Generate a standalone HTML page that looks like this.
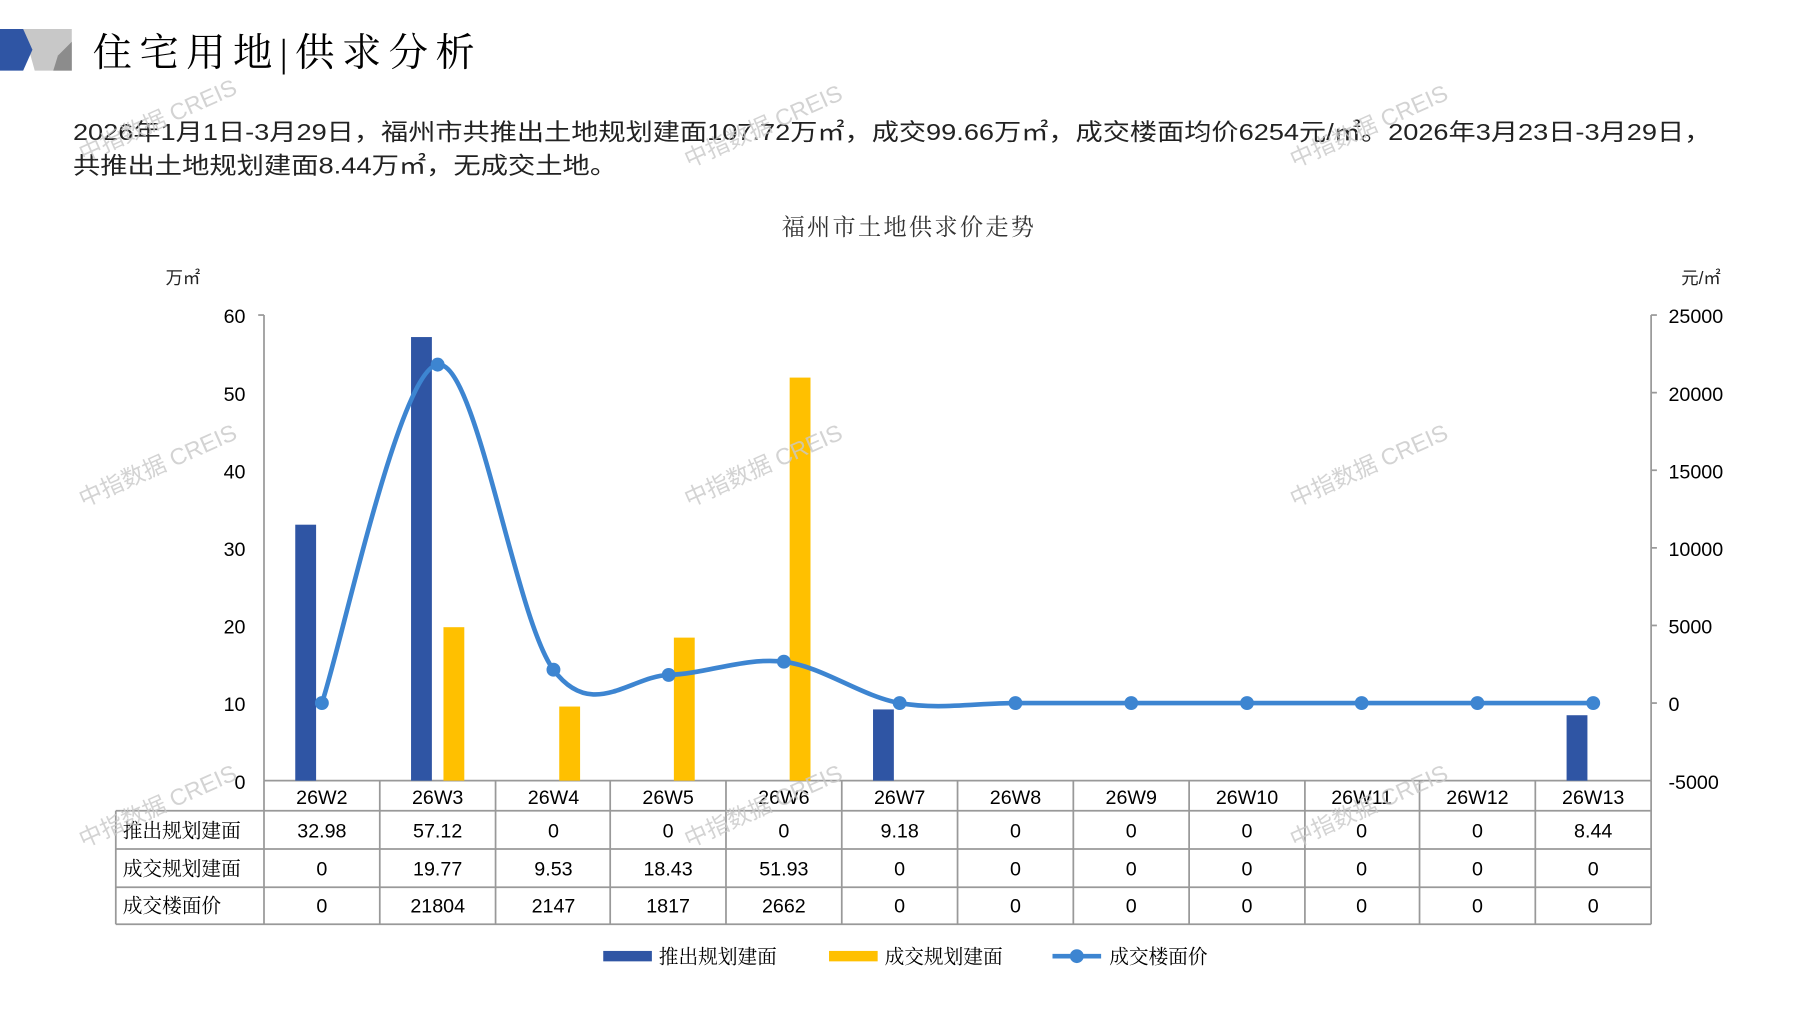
<!DOCTYPE html>
<html><head><meta charset="utf-8"><style>
html,body{margin:0;padding:0;background:#fff;width:1797px;height:1010px;overflow:hidden}
svg{display:block}
.s{font-family:"Liberation Serif","Noto Serif CJK SC",serif}
.n{font-family:"Liberation Sans","Noto Sans CJK SC",sans-serif}
</style></head><body>
<svg width="1797" height="1010" viewBox="0 0 1552 872" preserveAspectRatio="none" xmlns="http://www.w3.org/2000/svg">
<rect width="1552" height="872" fill="#fff"/>
<polygon points="20,25 62,25 62,61 30,61" fill="#c8c8c8"/>
<polygon points="0,25 20,25 28,43 20,61 0,61" fill="#2f55a4"/>
<polygon points="62,36 62,61 46,61 50,48" fill="#8c8c8c"/>
<text x="80" y="57" class="s" font-size="34" fill="#000" textLength="330" lengthAdjust="spacing">住宅用地|供求分析</text>
<g class="n" font-size="20" fill="#222">
<text x="63" y="121" textLength="1415" lengthAdjust="spacingAndGlyphs">2026年1月1日-3月29日，福州市共推出土地规划建面107.72万㎡，成交99.66万㎡，成交楼面均价6254元/㎡。2026年3月23日-3月29日，</text>
<text x="63" y="150" textLength="470" lengthAdjust="spacingAndGlyphs">共推出土地规划建面8.44万㎡，无成交土地。</text>
</g>
<text x="785" y="203" class="s" font-size="20" fill="#333" text-anchor="middle" letter-spacing="2">福州市土地供求价走势</text>
<text x="143" y="245" class="n" font-size="15" fill="#222">万㎡</text>
<text x="1452" y="245" class="n" font-size="15" fill="#222">元/㎡</text>
<g stroke="#999" stroke-width="1.5" fill="none">
<line x1="228" y1="272" x2="228" y2="674"/>
<line x1="1426" y1="272" x2="1426" y2="674"/>
<line x1="228" y1="674" x2="1426" y2="674"/>
<line x1="223" y1="272" x2="228" y2="272"/>
<line x1="1426" y1="272" x2="1431" y2="272"/>
<line x1="1426" y1="339" x2="1431" y2="339"/>
<line x1="1426" y1="406" x2="1431" y2="406"/>
<line x1="1426" y1="473" x2="1431" y2="473"/>
<line x1="1426" y1="540" x2="1431" y2="540"/>
<line x1="1426" y1="607" x2="1431" y2="607"/>
</g>
<g class="n" font-size="17" fill="#000" text-anchor="end">
<text x="212" y="279">60</text><text x="212" y="346">50</text><text x="212" y="413">40</text>
<text x="212" y="480">30</text><text x="212" y="547">20</text><text x="212" y="614">10</text><text x="212" y="681">0</text>
</g>
<g class="n" font-size="17" fill="#000">
<text x="1441" y="279">25000</text><text x="1441" y="346">20000</text><text x="1441" y="413">15000</text>
<text x="1441" y="480">10000</text><text x="1441" y="547">5000</text><text x="1441" y="614">0</text><text x="1441" y="681">-5000</text>
</g>
<g fill="#2f55a4">
<rect x="255" y="453" width="18" height="221"/>
<rect x="355" y="291" width="18" height="383"/>
<rect x="754" y="612.5" width="18" height="61.5"/>
<rect x="1353" y="617.5" width="18" height="56.5"/>
</g>
<g fill="#ffc000">
<rect x="383" y="541.5" width="18" height="132.5"/>
<rect x="483" y="610" width="18" height="64"/>
<rect x="582" y="550.5" width="18" height="123.5"/>
<rect x="682" y="326" width="18" height="348"/>
</g>
<path d="M278,607 C294.6,558.3 344.7,319.6 378,314.8 C411.3,310 444.7,533.6 478,578.2 C511.3,622.8 544.3,583.9 577.5,582.7 C610.7,581.5 643.7,567.3 677,571.3 C710.3,575.4 743.7,601.1 777,607 C810.3,613 843.7,607 877,607 L1377,607" fill="none" stroke="#3d85d1" stroke-width="4"/>
<g fill="#3d85d1">
<circle cx="278" cy="607" r="6"/><circle cx="378" cy="314.8" r="6"/><circle cx="478" cy="578.2" r="6"/>
<circle cx="577.5" cy="582.7" r="6"/><circle cx="677" cy="571.3" r="6"/><circle cx="777" cy="607" r="6"/>
<circle cx="877" cy="607" r="6"/><circle cx="977" cy="607" r="6"/><circle cx="1077" cy="607" r="6"/>
<circle cx="1176" cy="607" r="6"/><circle cx="1276" cy="607" r="6"/><circle cx="1376" cy="607" r="6"/>
</g>
<g stroke="#999" stroke-width="1.5" fill="none">
<line x1="228" y1="700" x2="1426" y2="700"/>
<line x1="100" y1="700" x2="228" y2="700"/>
<line x1="100" y1="733" x2="1426" y2="733"/>
<line x1="100" y1="766" x2="1426" y2="766"/>
<line x1="100" y1="798" x2="1426" y2="798"/>
<line x1="100" y1="700" x2="100" y2="798"/>
<line x1="228" y1="674" x2="228" y2="798"/>
<line x1="328" y1="674" x2="328" y2="798"/><line x1="428" y1="674" x2="428" y2="798"/>
<line x1="527" y1="674" x2="527" y2="798"/><line x1="627" y1="674" x2="627" y2="798"/>
<line x1="727" y1="674" x2="727" y2="798"/><line x1="827" y1="674" x2="827" y2="798"/>
<line x1="927" y1="674" x2="927" y2="798"/><line x1="1027" y1="674" x2="1027" y2="798"/>
<line x1="1127" y1="674" x2="1127" y2="798"/><line x1="1226" y1="674" x2="1226" y2="798"/>
<line x1="1326" y1="674" x2="1326" y2="798"/><line x1="1426" y1="674" x2="1426" y2="798"/>
</g>
<g class="s" font-size="17" fill="#000">
<text x="106" y="723">推出规划建面</text>
<text x="106" y="756">成交规划建面</text>
<text x="106" y="788">成交楼面价</text>
</g>
<g class="n" font-size="17" fill="#000" text-anchor="middle">
<text x="278" y="694">26W2</text><text x="378" y="694">26W3</text><text x="478" y="694">26W4</text><text x="577" y="694">26W5</text>
<text x="677" y="694">26W6</text><text x="777" y="694">26W7</text><text x="877" y="694">26W8</text><text x="977" y="694">26W9</text>
<text x="1077" y="694">26W10</text><text x="1176" y="694">26W11</text><text x="1276" y="694">26W12</text><text x="1376" y="694">26W13</text>
<text x="278" y="723">32.98</text><text x="378" y="723">57.12</text><text x="478" y="723">0</text><text x="577" y="723">0</text>
<text x="677" y="723">0</text><text x="777" y="723">9.18</text><text x="877" y="723">0</text><text x="977" y="723">0</text>
<text x="1077" y="723">0</text><text x="1176" y="723">0</text><text x="1276" y="723">0</text><text x="1376" y="723">8.44</text>
<text x="278" y="756">0</text><text x="378" y="756">19.77</text><text x="478" y="756">9.53</text><text x="577" y="756">18.43</text>
<text x="677" y="756">51.93</text><text x="777" y="756">0</text><text x="877" y="756">0</text><text x="977" y="756">0</text>
<text x="1077" y="756">0</text><text x="1176" y="756">0</text><text x="1276" y="756">0</text><text x="1376" y="756">0</text>
<text x="278" y="788">0</text><text x="378" y="788">21804</text><text x="478" y="788">2147</text><text x="577" y="788">1817</text>
<text x="677" y="788">2662</text><text x="777" y="788">0</text><text x="877" y="788">0</text><text x="977" y="788">0</text>
<text x="1077" y="788">0</text><text x="1176" y="788">0</text><text x="1276" y="788">0</text><text x="1376" y="788">0</text>
</g>
<rect x="521" y="821" width="42" height="9" fill="#2f55a4"/>
<text x="569" y="832" class="s" font-size="17" fill="#000">推出规划建面</text>
<rect x="716" y="821" width="42" height="9" fill="#ffc000"/>
<text x="764" y="832" class="s" font-size="17" fill="#000">成交规划建面</text>
<line x1="909" y1="825.5" x2="951" y2="825.5" stroke="#3d85d1" stroke-width="4"/>
<circle cx="930" cy="825.5" r="6" fill="#3d85d1"/>
<text x="958" y="832" class="s" font-size="17" fill="#000">成交楼面价</text>
<g class="n" font-size="20" fill="#c8c8c8" fill-opacity="0.8">
<text transform="translate(72,140) rotate(-24)">中指数据 CREIS</text>
<text transform="translate(595,145) rotate(-24)">中指数据 CREIS</text>
<text transform="translate(1118,145) rotate(-24)">中指数据 CREIS</text>
<text transform="translate(72,438) rotate(-24)">中指数据 CREIS</text>
<text transform="translate(595,438) rotate(-24)">中指数据 CREIS</text>
<text transform="translate(1118,438) rotate(-24)">中指数据 CREIS</text>
<text transform="translate(72,732) rotate(-24)">中指数据 CREIS</text>
<text transform="translate(595,732) rotate(-24)">中指数据 CREIS</text>
<text transform="translate(1118,732) rotate(-24)">中指数据 CREIS</text>
</g>
</svg>
</body></html>
